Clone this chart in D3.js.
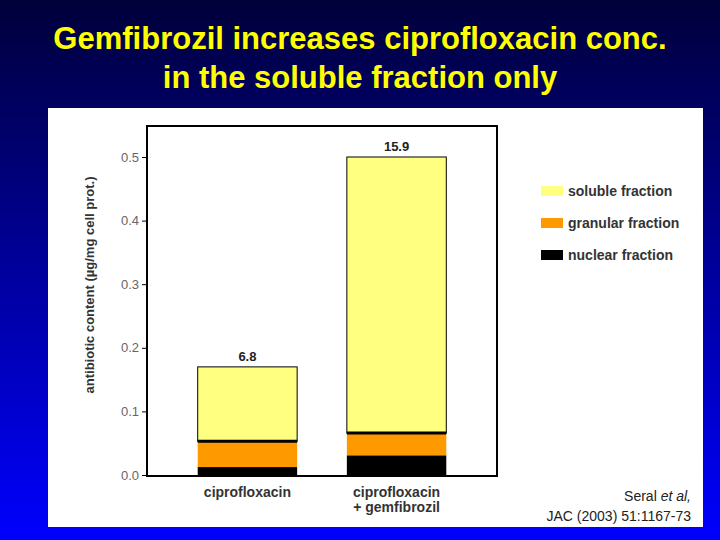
<!DOCTYPE html>
<html><head><meta charset="utf-8">
<script src="https://cdn.jsdelivr.net/npm/d3@7"></script>
<style>body{margin:0}</style></head>
<body><div id="chart"></div>
<script>
const categories = ["ciprofloxacin", "ciprofloxacin|+ gemfibrozil"]
const nuclear = [0.0125, 0.031]
const granular = [0.0405, 0.035]
const soluble = [0.117, 0.434]
const totalLabels = ["6.8", "15.9"]
const seriesNames = ["soluble fraction", "granular fraction", "nuclear fraction"]
const seriesColors = ["#ffff80", "#ff9900", "#000000"]
const yTicks = [0, 0.1, 0.2, 0.3, 0.4, 0.5]

const svg = d3.select("#chart").append("svg").attr("width", 720).attr("height", 540)
const grad = svg.append("defs").append("linearGradient").attr("id", "bg")
    .attr("x1", 0).attr("y1", 0).attr("x2", 0).attr("y2", 1)
grad.append("stop").attr("offset", "0%").attr("stop-color", "#00003a")
grad.append("stop").attr("offset", "100%").attr("stop-color", "#0000ff")
svg.append("rect").attr("width", 720).attr("height", 540).attr("fill", "url(#bg)")

svg.selectAll(".title").data(["Gemfibrozil increases ciprofloxacin conc.", "in the soluble fraction only"])
  .enter().append("text")
    .attr("x", 360).attr("y", (d, i) => 49 + i * 39)
    .attr("text-anchor", "middle").attr("fill", "#ffff00")
    .style("font", "bold 31px 'Liberation Sans', Arial, sans-serif")
    .text(d => d)

svg.append("rect").attr("x", 48).attr("y", 108).attr("width", 655).attr("height", 419).attr("fill", "#fff")

/* scales */
const x = d3.scaleBand().domain(categories).range([147, 497]).paddingInner(1 / 3).paddingOuter(0.34)
const y = d3.scaleLinear().domain([0, 0.5]).range([475, 157])

const stack = d3.stack().keys(["nuclear", "granular", "soluble"])
const rows = categories.map((c, i) => ({cat: c, nuclear: nuclear[i], granular: granular[i], soluble: soluble[i]}))
const layers = stack(rows)
const colorOf = {nuclear: "#000", granular: "#ff9900", soluble: "#ffff80"}

layers.forEach(layer => {
  svg.append("g").selectAll("rect").data(layer).enter().append("rect")
    .attr("x", d => x(d.data.cat))
    .attr("width", x.bandwidth())
    .attr("y", d => y(d[1]))
    .attr("height", d => y(d[0]) - y(d[1]))
    .attr("fill", colorOf[layer.key])
    .attr("stroke", "#000").attr("stroke-width", layer.key === "soluble" ? 1 : 0)
})
// dividing lines between fractions
svg.append("g").selectAll("line").data(layers[1]).enter().append("line")
  .attr("x1", d => x(d.data.cat)).attr("x2", d => x(d.data.cat) + x.bandwidth())
  .attr("y1", d => y(d[1])).attr("y2", d => y(d[1]))
  .attr("stroke", "#000").attr("stroke-width", 3)

svg.append("g").selectAll("text").data(rows).enter().append("text")
  .attr("x", d => x(d.cat) + x.bandwidth() / 2)
  .attr("y", (d, i) => y(nuclear[i] + granular[i] + soluble[i]) - 6)
  .attr("text-anchor", "middle").attr("fill", "#222")
  .style("font", "bold 13px 'Liberation Sans', Arial, sans-serif")
  .text((d, i) => totalLabels[i])

/* frame and axis */
svg.append("rect").attr("x", 147).attr("y", 126).attr("width", 350).attr("height", 350)
  .attr("fill", "none").attr("stroke", "#000").attr("stroke-width", 2)
const yAxis = svg.append("g").attr("transform", "translate(147,0)")
  .call(d3.axisLeft(y).tickValues(yTicks).tickFormat(d3.format(".1f")).tickSize(5))
yAxis.select(".domain").remove()
yAxis.selectAll("text").attr("fill", "#666").style("font", "13px 'Liberation Sans', Arial, sans-serif")

svg.append("text").attr("transform", "translate(94,285) rotate(-90)")
  .attr("text-anchor", "middle").attr("fill", "#333")
  .style("font", "bold 13px 'Liberation Sans', Arial, sans-serif")
  .text("antibiotic content (µg/mg cell prot.)")

categories.forEach(c => {
  c.split("|").forEach((line, j) => {
    svg.append("text").attr("x", x(c) + x.bandwidth() / 2).attr("y", 497 + j * 15)
      .attr("text-anchor", "middle").attr("fill", "#333")
      .style("font", "bold 14px 'Liberation Sans', Arial, sans-serif").text(line)
  })
})

/* legend */
const legend = svg.append("g").selectAll("g").data(seriesNames).enter().append("g")
  .attr("transform", (d, i) => `translate(541,${186 + i * 32})`)
legend.append("rect").attr("width", 22).attr("height", 10).attr("fill", (d, i) => seriesColors[i])
legend.append("text").attr("x", 27).attr("y", 10).attr("fill", "#333")
  .style("font", "bold 14px 'Liberation Sans', Arial, sans-serif").text(d => d)

const cite = svg.append("text").attr("text-anchor", "end")
  .style("font", "14px 'Liberation Sans', Arial, sans-serif").attr("fill", "#222")
cite.append("tspan").attr("x", 691).attr("y", 501).text("Seral ")
cite.append("tspan").style("font-style", "italic").text("et al,")
cite.append("tspan").attr("x", 691).attr("y", 521).text("JAC (2003) 51:1167-73")
</script></body></html>
